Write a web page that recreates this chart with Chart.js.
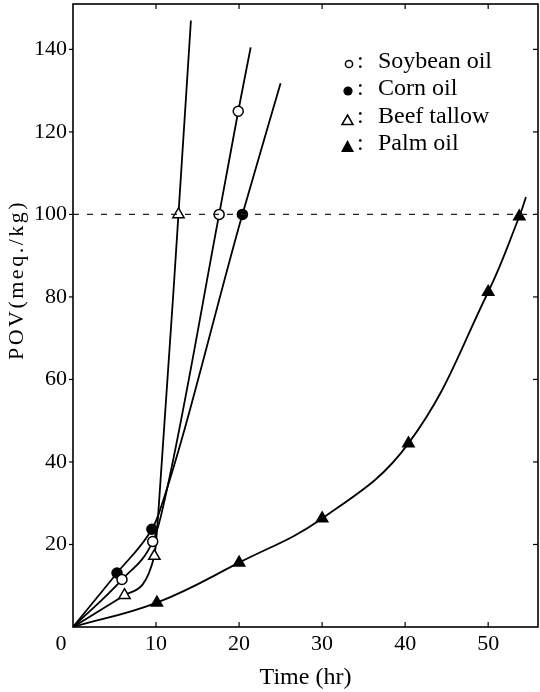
<!DOCTYPE html>
<html><head><meta charset="utf-8">
<script src="https://cdn.jsdelivr.net/npm/chart.js@4.4.1/dist/chart.umd.min.js"></script>
<style>html,body{margin:0;padding:0;background:#fff}canvas{display:block}</style>
</head><body>
<canvas id="c" width="540" height="692"></canvas>
<script>
// ---- data ----
const soybeanX = [0, 5.9, 9.6, 10.6, 17.6, 19.9, 21.4];
const soybeanY = [0, 11.5, 20.7, 27, 100, 125, 140.5];
const soybeanMarked = [0, 1, 1, 0, 1, 1, 0];
const cornX = [0, 5.3, 9.5, 10.25, 20.4, 25];
const cornY = [0, 13.1, 23.7, 27, 100, 131.8];
const cornMarked = [0, 1, 1, 0, 1, 0];
const beefX = [0, 6.2, 9.8, 10.25, 12.7, 14.2];
const beefY = [0, 7.7, 17.2, 27, 100, 147];
const beefMarked = [0, 1, 1, 0, 1, 0];
const palmX = [0, 10.1, 20, 30, 40.4, 50, 53.75, 54.55];
const palmY = [0, 5.9, 15.6, 26.3, 44.5, 81.2, 99.5, 104.2];
const palmMarked = [0, 1, 1, 1, 1, 1, 1, 0];
const limitX = [0, 56];
const limitY = [100, 100];
const xTicks = [0, 10, 20, 30, 40, 50];
const yTicks = [20, 40, 60, 80, 100, 120, 140];
const legendLabels = ['Soybean oil', 'Corn oil', 'Beef tallow', 'Palm oil'];
const xTitle = 'Time (hr)';
const yTitle = 'POV(meq./kg)';

const SERIF = '"Liberation Serif", "DejaVu Serif", serif';
const pts = (xs, ys) => xs.map((v, i) => ({x: v, y: ys[i]}));

function series(xs, ys, marked, style, filled, r, smooth) {
  const d = {
    data: pts(xs, ys),
    showLine: true,
    borderColor: '#000',
    borderWidth: 1.8,
    pointStyle: style,
    pointRadius: marked.map(m => m ? r : 0),
    pointHoverRadius: marked.map(m => m ? r : 0),
    pointBackgroundColor: filled ? '#000' : '#fff',
    pointBorderColor: '#000',
    pointBorderWidth: 1.5
  };
  if (smooth === 'monotone') d.cubicInterpolationMode = 'monotone';
  else d.tension = smooth;
  return d;
}

const deco = {
  id: 'deco',
  beforeDatasetsDraw(chart) {
    const {ctx, chartArea: a, scales: {x, y}} = chart;
    ctx.save();
    ctx.strokeStyle = '#000';
    ctx.lineWidth = 1.6;
    ctx.strokeRect(a.left, a.top, a.right - a.left, a.bottom - a.top);
    ctx.lineWidth = 1.2;
    const ln = (x1, y1, x2, y2) => { ctx.beginPath(); ctx.moveTo(x1, y1); ctx.lineTo(x2, y2); ctx.stroke(); };
    xTicks.forEach(v => {
      if (v === 0) return;
      const px = x.getPixelForValue(v);
      ln(px, a.bottom, px, a.bottom - 5);
      ln(px, a.top, px, a.top + 5);
    });
    yTicks.forEach(v => {
      const py = y.getPixelForValue(v);
      ln(a.left - 4, py, a.left, py);
      ln(a.right, py, a.right - 5, py);
    });
    ctx.restore();
  },
  afterDraw(chart) {
    const {ctx, chartArea: a} = chart;
    ctx.save();
    ctx.fillStyle = '#000';
    ctx.strokeStyle = '#000';
    // origin label
    ctx.font = '22px ' + SERIF;
    ctx.textAlign = 'center';
    ctx.textBaseline = 'middle';
    ctx.fillText('0', a.left - 12, a.bottom + 17);
    // y title
    ctx.save();
    ctx.translate(17, 280);
    ctx.rotate(-Math.PI / 2);
    ctx.font = '22px ' + SERIF;
    try { ctx.letterSpacing = '2.5px'; } catch (e) {}
    ctx.fillText(yTitle, 0, 0);
    ctx.restore();
    // legend
    const base = [68, 95, 123, 150];
    ctx.font = '24px ' + SERIF;
    ctx.textAlign = 'left';
    ctx.textBaseline = 'alphabetic';
    legendLabels.forEach((t, i) => {
      ctx.fillText(':', 357, base[i]);
      ctx.fillText(t, 378, base[i]);
    });
    ctx.lineWidth = 1.5;
    ctx.beginPath(); ctx.arc(349, 64, 3.6, 0, Math.PI * 2); ctx.stroke();
    ctx.beginPath(); ctx.arc(348, 91, 4.6, 0, Math.PI * 2); ctx.fill();
    ctx.beginPath(); ctx.moveTo(347.5, 115); ctx.lineTo(353, 124.5); ctx.lineTo(342, 124.5); ctx.closePath(); ctx.stroke();
    ctx.beginPath(); ctx.moveTo(347.5, 140); ctx.lineTo(354, 152); ctx.lineTo(341, 152); ctx.closePath(); ctx.fill();
    ctx.restore();
  }
};

new Chart(document.getElementById('c'), {
  type: 'scatter',
  data: {
    datasets: [
      {
        data: pts(limitX, limitY),
        showLine: true,
        borderColor: '#222',
        borderWidth: 1.3,
        borderDash: [6, 8],
        pointRadius: 0,
        pointHoverRadius: 0
      },
      series(soybeanX, soybeanY, soybeanMarked, 'circle', false, 5, 'monotone'),
      series(cornX, cornY, cornMarked, 'circle', true, 5, 'monotone'),
      series(beefX, beefY, beefMarked, 'triangle', false, 6.5, 'monotone'),
      series(palmX, palmY, palmMarked, 'triangle', true, 6.5, 0.4)
    ]
  },
  options: {
    responsive: false,
    animation: false,
    devicePixelRatio: 1,
    layout: {padding: {top: 4, right: 2, left: 0, bottom: 0}},
    plugins: {legend: {display: false}, tooltip: {enabled: false}},
    scales: {
      x: {
        type: 'linear', min: 0, max: 56,
        afterBuildTicks: s => { s.ticks = xTicks.map(v => ({value: v})); },
        afterFit: s => { s.height = 65; s.paddingLeft = 0; s.paddingRight = 0; },
        grid: {display: false, drawTicks: false},
        border: {display: false},
        ticks: {
          font: {family: SERIF, size: 22}, color: '#000', padding: 4,
          maxRotation: 0, autoSkip: false,
          callback: v => v === 0 ? '' : String(v)
        },
        title: {display: true, text: xTitle, color: '#000',
          font: {family: SERIF, size: 24}, padding: {top: 0, bottom: 0}}
      },
      y: {
        type: 'linear', min: 0, max: 151,
        afterBuildTicks: s => { s.ticks = yTicks.map(v => ({value: v})); },
        afterFit: s => { s.width = 73; s.paddingTop = 0; s.paddingBottom = 0; },
        grid: {display: false, drawTicks: false},
        border: {display: false},
        ticks: {font: {family: SERIF, size: 22}, color: '#000', padding: 6, autoSkip: false}
      }
    }
  },
  plugins: [deco]
});
</script>
</body></html>
